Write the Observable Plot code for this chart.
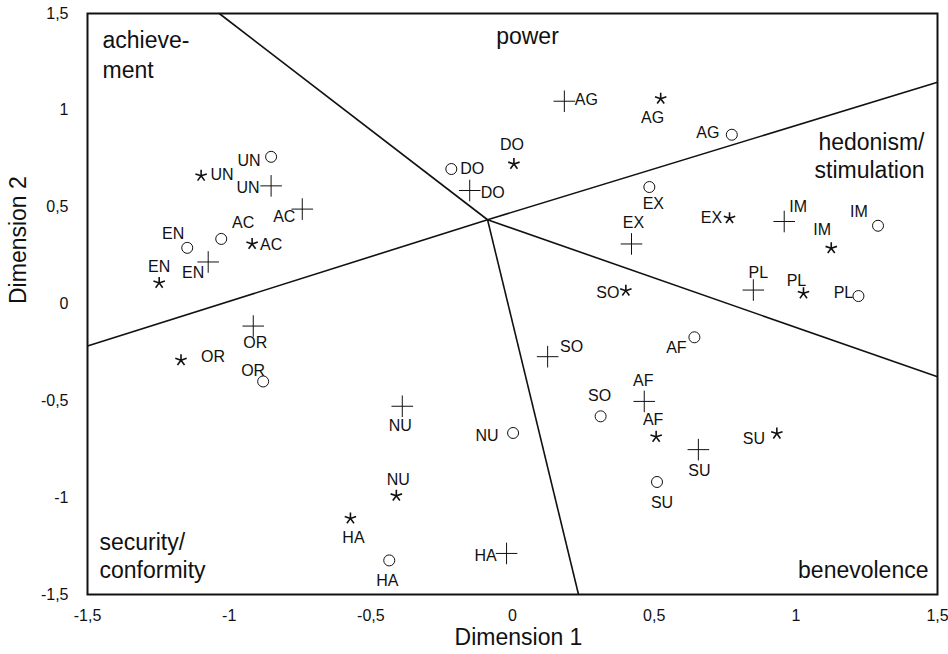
<!DOCTYPE html>
<html>
<head>
<meta charset="utf-8">
<script src="https://cdn.jsdelivr.net/npm/d3@7"></script>
<script src="https://cdn.jsdelivr.net/npm/@observablehq/plot@0.6"></script>
<style>
  html, body { margin: 0; padding: 0; background: #fff; }
  #chart svg { display: block; }
</style>
</head>
<body>
<div id="chart"></div>
<script>
// ---- data ----
const codes = ["AC","AG","AF","DO","EN","EX","HA","IM","NU","OR","PL","SO","SU","UN"];

// group drawn with open circles
const circleX = [-1.028, 0.774, 0.642, -0.216, -1.148, 0.483, -0.435, 1.290, 0.002, -0.880, 1.221, 0.311, 0.510, -0.852];
const circleY = [ 0.336, 0.874, -0.172, 0.697, 0.290, 0.604, -1.324, 0.404, -0.666, -0.400, 0.041, -0.580, -0.919, 0.760];

// group drawn with stars
const starX = [-0.919, 0.523, 0.507, 0.005, -1.247, 0.766, -0.572, 1.125, -0.410, -1.170, 1.027, 0.400, 0.933, -1.099];
const starY = [ 0.310, 1.060, -0.686, 0.723, 0.109, 0.443, -1.107, 0.288, -0.990, -0.290, 0.055, 0.069, -0.669, 0.662];

// group drawn with plus signs
const plusX = [-0.742, 0.183, 0.465, -0.151, -1.074, 0.420, -0.021, 0.959, -0.389, -0.915, 0.850, 0.124, 0.656, -0.852];
const plusY = [ 0.490, 1.047, -0.503, 0.586, 0.217, 0.310, -1.288, 0.426, -0.528, -0.114, 0.072, -0.272, -0.752, 0.610];

// region boundaries: lines from a hub to the frame edges
const hubX = -0.088, hubY = 0.435;
const boundaryEndX = [-1.035, 1.5, 1.5, 0.233, -1.5];
const boundaryEndY = [ 1.5, 1.145, -0.376, -1.5, -0.217];

const regionNames = ["achieve-\nment", "power", "hedonism/\nstimulation", "security/\nconformity", "benevolence"];

const xTicks = [-1.5, -1, -0.5, 0, 0.5, 1, 1.5];
const yTicks = [-1.5, -1, -0.5, 0, 0.5, 1, 1.5];
const xTitle = "Dimension 1";
const yTitle = "Dimension 2";

// ---- label styles (pixel offsets of each code label from its symbol) ----
const circleLabelDx = [22, -24, -18, 21, -14, 4, -2, -19, -26, -10, -15, -1, 5, -22];
const circleLabelDy = [-16, -2, 11, 0, -14, 17, 20, -14, 3, -11, -3, -20, 21, 4];
const starLabelDx = [19, -8, -3, -2, 0, -18, 3, -9, 2, 32, -7, -18, -23, 21];
const starLabelDy = [1, 19, -17, -19, -16, 0, 19, -18, -16, -3, -12, 2, 5, -1];
const plusLabelDx = [-18, 22, -1, 23, -15, 2, -21, 14, -2, 2, 5, 24, 1, -23];
const plusLabelDy = [8, -1, -21, 2, 11, -21, 2, -15, 20, 17, -17, -10, 21, 2];

// ---- build ----
const fmt = d => String(d).replace(".", ",");
const FONT = "'Liberation Sans', Arial, Helvetica, sans-serif";

function rows(xs, ys) { return codes.map((c, i) => ({code: c, x: xs[i], y: ys[i], i})); }
const circles = rows(circleX, circleY);
const stars = rows(starX, starY);
const pluses = rows(plusX, plusY);
const boundaries = boundaryEndX.map((x, i) => ({x1: hubX, y1: hubY, x2: x, y2: boundaryEndY[i]}));

// five-armed asterisk symbol
const asterisk5 = {
  draw(ctx, size) {
    const r = Math.sqrt(size / Math.PI);
    for (let k = 0; k < 5; k++) {
      const a = -Math.PI / 2 + k * 2 * Math.PI / 5;
      ctx.moveTo(0, 0);
      ctx.lineTo(r * Math.cos(a), r * Math.sin(a));
    }
  }
};

function labelMarks(data, dxs, dys) {
  return data.map((d, i) => Plot.text([d], {
    x: "x", y: "y", text: "code",
    dx: dxs[i], dy: dys[i],
    fontSize: 16, textAnchor: "middle", lineAnchor: "middle", fill: "#111"
  }));
}

const chart = Plot.plot({
  width: 948,
  height: 654,
  marginLeft: 87,
  marginRight: 11,
  marginTop: 13,
  marginBottom: 60,
  style: {fontFamily: FONT, fontSize: "16px", background: "#fff", color: "#111"},
  x: {domain: [-1.5, 1.5]},
  y: {domain: [-1.5, 1.5]},
  marks: [
    Plot.axisX({ticks: xTicks, tickFormat: fmt, tickSize: 0, tickPadding: 15, label: null, fontSize: 16}),
    Plot.axisY({ticks: yTicks, tickFormat: fmt, tickSize: 0, tickPadding: 19, label: null, fontSize: 16}),
    Plot.link(boundaries, {x1: "x1", y1: "y1", x2: "x2", y2: "y2", stroke: "#111", strokeWidth: 1.6}),
    Plot.frame({stroke: "#111", strokeWidth: 2}),
    Plot.dot(circles, {x: "x", y: "y", symbol: "circle", r: 5.5, fill: "white", stroke: "#111", strokeWidth: 1}),
    Plot.dot(stars, {x: "x", y: "y", symbol: asterisk5, r: 6, fill: "none", stroke: "#111", strokeWidth: 1.6}),
    Plot.dot(pluses, {x: "x", y: "y", symbol: "plus", r: 7, fill: "none", stroke: "#111", strokeWidth: 1}),
    ...labelMarks(circles, circleLabelDx, circleLabelDy),
    ...labelMarks(stars, starLabelDx, starLabelDy),
    ...labelMarks(pluses, plusLabelDx, plusLabelDy),
    // region names
    Plot.text([regionNames[0]], {frameAnchor: "top-left", dx: 15, dy: 14, textAnchor: "start", lineAnchor: "top", fontSize: 23, lineHeight: 1.28, fill: "#111"}),
    Plot.text([regionNames[1]], {frameAnchor: "top", dx: 15, dy: 14, textAnchor: "middle", lineAnchor: "top", fontSize: 23, fill: "#111"}),
    Plot.text([regionNames[2]], {frameAnchor: "top-right", dx: -13, dy: 116, textAnchor: "end", lineAnchor: "top", fontSize: 23, lineHeight: 1.24, fill: "#111"}),
    Plot.text([regionNames[3]], {frameAnchor: "bottom-left", dx: 12, dy: -64, textAnchor: "start", lineAnchor: "top", fontSize: 23, lineHeight: 1.2, fill: "#111"}),
    Plot.text([regionNames[4]], {frameAnchor: "bottom-right", dx: -9, dy: -33, textAnchor: "end", lineAnchor: "top", fontSize: 23, fill: "#111"}),
    // axis titles
    Plot.text([xTitle], {frameAnchor: "bottom", dx: 6, dy: 43, lineAnchor: "middle", fontSize: 23, fill: "#111"}),
    Plot.text([yTitle], {frameAnchor: "left", dx: -69, dy: 0, rotate: -90, lineAnchor: "middle", fontSize: 23, fill: "#111"})
  ]
});
document.getElementById("chart").appendChild(chart);
</script>
</body>
</html>
